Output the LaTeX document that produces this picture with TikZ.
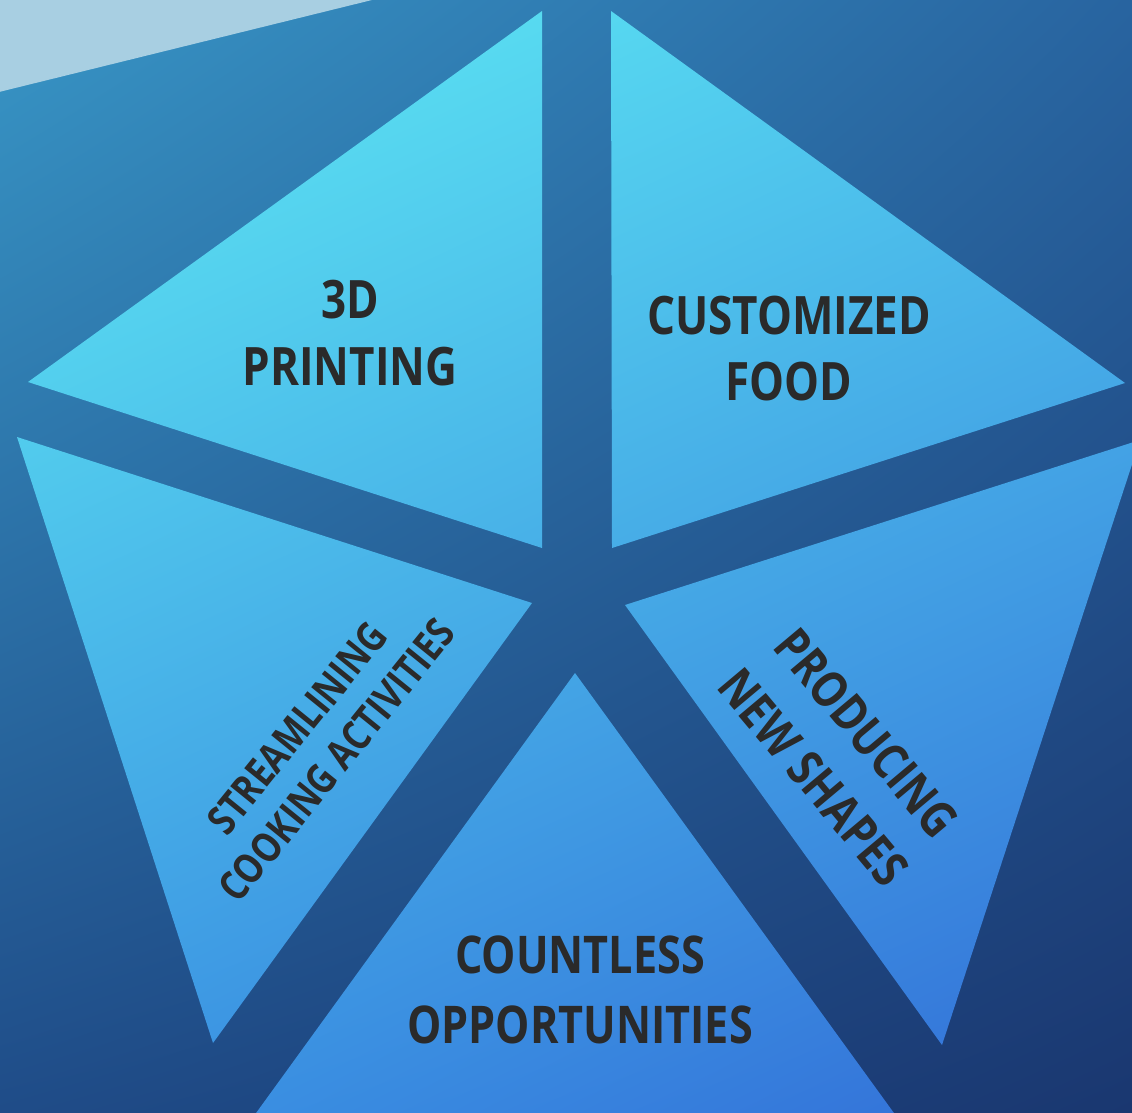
\documentclass[tikz,border=0pt]{standalone}
\usepackage{fontspec}
\usetikzlibrary{shadings}
\newfontfamily\labfont[FakeStretch=0.83]{Open Sans}
\definecolor{txt}{HTML}{2A2A2A}
\definecolor{strip}{HTML}{A8CFE2}
\definecolor{bgUL}{RGB}{56,150,198}
\definecolor{bgUR}{RGB}{40,100,160}
\definecolor{bgLL}{RGB}{31,76,136}
\definecolor{bgLR}{RGB}{26,55,112}
\definecolor{trUL}{RGB}{96,238,243}
\definecolor{trUR}{RGB}{78,198,238}
\definecolor{trLL}{RGB}{60,152,228}
\definecolor{trLR}{RGB}{50,108,215}
\begin{document}
\begin{tikzpicture}[x=1pt,y=-1pt,
  lab/.style={inner sep=0pt, align=center, text=txt}]
\useasboundingbox (0,0) rectangle (1132,1112);
\clip (0,0) rectangle (1132,1112);
% background
\shade[shading=bilinear interpolation, upper left=bgUL, upper right=bgUR,
       lower left=bgLL, lower right=bgLR]
  (0,0) rectangle (1132,1112);
\fill[strip] (-1,-1) -- (376,-1) -- (-1,92) -- cycle;
% triangles
\begin{scope}
\clip (542,11) -- (28,382) -- (542,548) -- cycle
      (611,11) -- (1125,383) -- (612,548) -- cycle
      (1140,440) -- (942,1045) -- (625,605) -- cycle
      (575,673) -- (193,1200) -- (957,1200) -- cycle
      (17,437) -- (213,1043) -- (532,603) -- cycle;
\shade[shading=bilinear interpolation, upper left=trUL, upper right=trUR,
       lower left=trLL, lower right=trLR]
  (0,0) rectangle (1132,1112);
\end{scope}
% labels
\node[lab, font=\labfont\bfseries\fontsize{53}{67}\selectfont] (t1) at (350,333) {3D\\PRINTING};
\node[lab, font=\labfont\bfseries\fontsize{53}{66}\selectfont] (t2) at (789,349) {CUSTOMIZED\\FOOD};
\node[lab, font=\labfont\bfseries\fontsize{52}{70}\selectfont] (t3) at (580,990) {COUNTLESS\\OPPORTUNITIES};
\node[lab, rotate=51, font=\labfont\bfseries\fontsize{41}{51}\selectfont] (t4) at (317,744) {STREAMLINING\\COOKING ACTIVITIES};
\node[lab, rotate=-50, font=\labfont\bfseries\fontsize{50}{69}\selectfont] (t5) at (840,755) {PRODUCING\\NEW SHAPES};
\end{tikzpicture}
\end{document}
